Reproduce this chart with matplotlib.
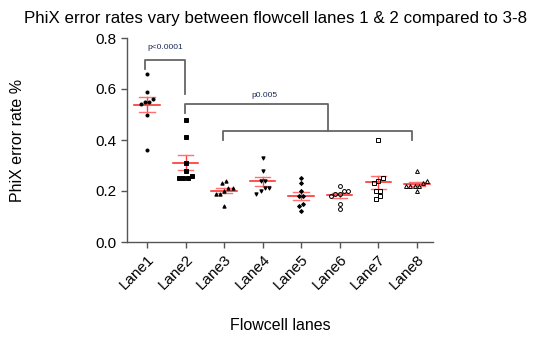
import matplotlib
matplotlib.use("Agg")
import matplotlib.pyplot as plt
import numpy as np

plt.rcParams['font.family'] = ['Liberation Sans', 'DejaVu Sans']

lanes = ["Lane1", "Lane2", "Lane3", "Lane4", "Lane5", "Lane6", "Lane7", "Lane8"]
lane1 = [0.66, 0.59, 0.56, 0.55, 0.55, 0.54, 0.50, 0.36]
lane2 = [0.48, 0.41, 0.31, 0.28, 0.26, 0.25, 0.25, 0.25]
lane3 = [0.24, 0.23, 0.21, 0.21, 0.20, 0.19, 0.19, 0.14]
lane4 = [0.33, 0.28, 0.24, 0.24, 0.21, 0.21, 0.20, 0.19]
lane5 = [0.25, 0.23, 0.20, 0.18, 0.18, 0.15, 0.14, 0.12]
lane6 = [0.22, 0.20, 0.20, 0.19, 0.19, 0.18, 0.15, 0.13]
lane7 = [0.40, 0.25, 0.24, 0.23, 0.20, 0.20, 0.18, 0.17]
lane8 = [0.28, 0.24, 0.23, 0.22, 0.22, 0.22, 0.22, 0.20]
series = [lane1, lane2, lane3, lane4, lane5, lane6, lane7, lane8]
yticks = [0.0, 0.2, 0.4, 0.6, 0.8]

markers = [('o', 'black'), ('s', 'black'), ('^', 'black'), ('v', 'black'),
           ('D', 'black'), ('o', 'none'), ('s', 'none'), ('^', 'none')]
msizes = [2.2, 2.2, 2.4, 2.4, 2.0, 2.8, 2.8, 2.8]

fig = plt.figure(figsize=(5.39, 3.52), dpi=100)
ax = fig.add_axes([127/539, 1-242/352, (433-127)/539, (242-38)/352])

def swarm(vals, tol=0.012, step=0.11):
    v = np.asarray(vals, float)
    order = np.argsort(v)
    offs = np.zeros(len(v))
    groups = []
    for i in order:
        if groups and abs(v[i] - v[groups[-1][-1]]) < tol:
            groups[-1].append(i)
        else:
            groups.append([i])
    for g in groups:
        n = len(g)
        for k, i in enumerate(g):
            offs[i] = (k - (n - 1) / 2) * step
    return offs

for i, vals in enumerate(series):
    x = i + swarm(vals)
    m, fc = markers[i]
    ax.plot(x, vals, linestyle='none', marker=m, markersize=msizes[i],
            markerfacecolor=fc, markeredgecolor='black', markeredgewidth=0.7, zorder=3)
    mean = np.mean(vals)
    sem = np.std(vals, ddof=1) / np.sqrt(len(vals))
    ax.plot([i - 0.33, i + 0.33], [mean, mean], color='#ff2020', lw=1.1, zorder=2)
    ax.plot([i, i], [mean - sem, mean + sem], color='#ff4040', lw=1.0, zorder=2)
    for yy in (mean - sem, mean + sem):
        ax.plot([i - 0.2, i + 0.2], [yy, yy], color='#ff7070', lw=1.0, zorder=2)

gray = '#666666'
# bracket lane1 vs lane2
ax.plot([-0.05, -0.05, 0.98, 0.98], [0.678, 0.714, 0.714, 0.58], color=gray, lw=1.3, clip_on=False)
ax.text(0.47, 0.748, 'p<0.0001', fontsize=6, color='#1a2a5a', ha='center', va='bottom')
# bracket lane2 vs lanes3-8
ax.plot([0.98, 0.98, 4.7, 4.7], [0.507, 0.541, 0.541, 0.437], color=gray, lw=1.3)
ax.plot([1.98, 1.98, 6.87, 6.87], [0.40, 0.437, 0.437, 0.40], color=gray, lw=1.3)
ax.text(3.05, 0.562, 'p0.005', fontsize=6, color='#1a2a5a', ha='center', va='bottom')

ax.set_xlim(-0.52, 7.42)
ax.set_ylim(0, 0.8)
ax.set_yticks(yticks)
ax.set_yticklabels([f"{t:.1f}" for t in yticks], fontsize=11)
ax.set_xticks(range(len(lanes)))
ax.set_xticklabels(lanes, rotation=45, ha='right', rotation_mode='anchor', fontsize=11)
ax.tick_params(axis='both', length=4, width=1, colors='#555555', labelcolor='black')
for s in ('top', 'right'):
    ax.spines[s].set_visible(False)
for s in ('left', 'bottom'):
    ax.spines[s].set_color('#555555')
    ax.spines[s].set_linewidth(1.0)

fig.text(18/539, 1-140/352, 'PhiX error rate %', fontsize=11.5, rotation=90,
         ha='center', va='center')
fig.text(280/539, 1-325/352, 'Flowcell lanes', fontsize=11.5, ha='center', va='center')
fig.text(275/539, 1-18/352, 'PhiX error rates vary between flowcell lanes 1 & 2 compared to 3-8',
         fontsize=12.2, ha='center', va='center')

fig.savefig('out.png', dpi=100)
